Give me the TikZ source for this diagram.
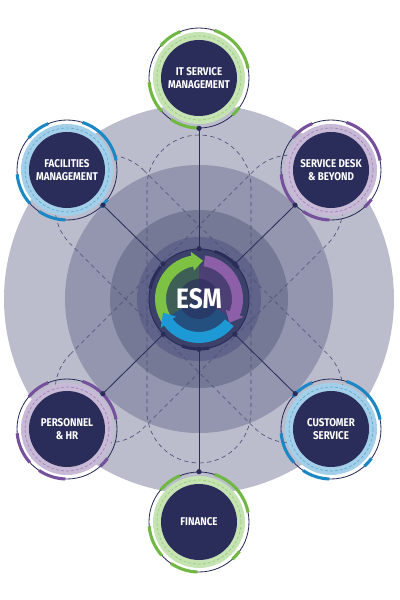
\documentclass[tikz,border=0pt]{standalone}
\usepackage{fontspec}
\setmainfont{Fira Sans}[FakeStretch=0.87]

\definecolor{navy}{HTML}{2A2C5A}
\definecolor{ringa}{HTML}{BBBDCD}
\definecolor{ringb}{HTML}{9396AE}
\definecolor{ringc}{HTML}{767995}
\definecolor{ringd}{HTML}{60648A}
\definecolor{hubfill}{HTML}{3C4169}
\definecolor{grn}{HTML}{70B843}
\definecolor{prp}{HTML}{76509C}
\definecolor{blu}{HTML}{1B87C5}
\definecolor{agrn}{HTML}{7DC243}
\definecolor{aprp}{HTML}{8C5FA8}
\definecolor{ablu}{HTML}{1D9AD6}
\definecolor{sgrn}{HTML}{3D5F56}
\definecolor{sprp}{HTML}{4B3F74}
\definecolor{sblu}{HTML}{24507F}

\tikzset{
  sat/.style={circle, inner sep=0pt, minimum size=2.5cm, align=center, text=white,
    font=\bfseries\fontsize{8}{9.4}\selectfont},
  hub/.style={circle, inner sep=0pt, minimum size=2.5cm, text=white,
    font=\bfseries\fontsize{20}{22}\selectfont},
  link/.style={navy, line width=0.6pt},
  pin/.style={circle, fill=navy, inner sep=0pt, minimum size=0.13cm},
  guide/.style={navy!85, line width=0.45pt, dash pattern=on 3pt off 2.5pt},
  accent/.style={line width=2.2pt},
}

\begin{document}
\begin{tikzpicture}[x=0.025cm, y=0.025cm]
  \useasboundingbox (0,0) rectangle (400,600);

  % rings behind the hub
  \fill[ringa] (199,301) circle (195);
  \fill[ringb] (199,301) circle (134);
  \fill[ringc] (199,301) circle (89);
  \fill[ringd] (199,301) circle (62);

  % dashed capsules along the three axes
  \foreach \a/\L in {90/112, 45/130, -45/130}{
    \begin{scope}[shift={(199,301)}, rotate=\a]
      \draw[guide] (-\L,52) -- (\L,52) arc (90:-90:52) -- (-\L,-52) arc (270:90:52) -- cycle;
    \end{scope}
  }

  % satellites
  \foreach \n/\px/\py/\c/\t in {
      it/199/522/grn/{IT SERVICE\\MANAGEMENT},
      sdb/331/430/prp/{SERVICE DESK\\\& BEYOND},
      fac/67/430/blu/{FACILITIES\\MANAGEMENT},
      per/67/171/prp/{PERSONNEL\\\& HR},
      cus/331/171/blu/{CUSTOMER\\SERVICE},
      fin/199/78/grn/{FINANCE}}{
    \begin{scope}[shift={(\px,\py)}]
      \fill[\c!40!white] (0,0) circle (46);
      \draw[\c!70!white, line width=0.5pt, dash pattern=on 2pt off 1.5pt] (0,0) circle (42);
      \fill[navy] (0,0) circle (38);
      \draw[navy, line width=0.6pt] (0,0) circle (50);
      \draw[\c, accent] (11:50) arc (11:72:50);
      \draw[\c, accent] (112:50) arc (112:140:50);
      \draw[\c, accent] (185:50) arc (185:222:50);
      \draw[\c, accent] (236:50) arc (236:268:50);
      \draw[\c, accent] (-48:50) arc (-48:-36:50);
    \end{scope}
    \node[sat] (\n) at (\px,\py) {\t};
  }

  % hub
  \begin{scope}[shift={(199,301)}]
    \fill[hubfill] (0,0) circle (50);
    \draw[navy, line width=0.7pt] (0,0) circle (50);
    \draw[navy, accent] (38:50) arc (38:72:50);
    \draw[navy, accent] (140:50) arc (140:168:50);
    \draw[navy, accent] (250:50) arc (250:282:50);
    \fill[sgrn] (0,0) -- (210:33) arc (210:90:33) -- cycle;
    \fill[sprp] (0,0) -- (90:33) arc (90:-30:33) -- cycle;
    \fill[sblu] (0,0) -- (-30:33) arc (-30:-150:33) -- cycle;
    \fill[navy, opacity=0.6] (0,0) circle (20);
    \foreach \col/\s/\e in {agrn/212/100, aprp/82/-22, ablu/-38/-143}
      \fill[\col] (\s:44) arc (\s:\e:44) -- (\e:48) -- ({\e-16}:38.5) -- (\e:29) -- (\e:33) arc (\e:\s:33) -- cycle;
  \end{scope}
  \node[hub] (esm) at (199,301) {ESM};

  % connectors
  \foreach \n in {it,sdb,fac,per,cus,fin}
    \draw[link] (esm) -- node[pos=0,pin]{} node[pos=1,pin]{} (\n);
\end{tikzpicture}
\end{document}
